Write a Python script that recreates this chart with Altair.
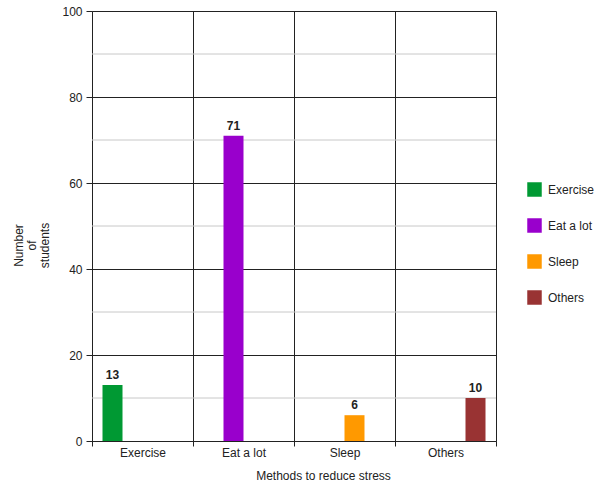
import altair as alt
import pandas as pd

# Survey results: how students reduce stress
methods = ["Exercise", "Eat a lot", "Sleep", "Others"]
students = [13, 71, 6, 10]
colors = ["#009933", "#9900cc", "#ff9900", "#993333"]

# y-axis ticks (labelled, dark grid) and the lighter in-between grid lines
major_ticks = [0, 20, 40, 60, 80, 100]
minor_ticks = [10, 30, 50, 70, 90]

bars_df = pd.DataFrame({"method": methods, "series": methods, "count": students})
minor_df = pd.DataFrame({"level": minor_ticks})

FONT = "Liberation Sans"

y_scale = alt.Scale(domain=[0, 100], nice=False)

minor_grid = alt.Chart(minor_df).mark_rule(color="#c8c8c8", strokeWidth=1).encode(
    y=alt.Y("level:Q", scale=y_scale)
)

x_enc = alt.X(
    "method:N",
    sort=methods,
    scale=alt.Scale(paddingInner=0, paddingOuter=0),
    axis=alt.Axis(
        title="Methods to reduce stress",
        tickBand="extent",
        grid=True,
        gridColor="#222222",
        labelAngle=0,
        labelFont=FONT,
        labelFontSize=12,
        labelColor="#222222",
        labelPadding=1,
        tickColor="#222222",
        tickSize=5,
        domainColor="#222222",
        titleFont=FONT,
        titleFontSize=12,
        titleFontWeight="normal",
        titleColor="#222222",
        titleX=231,
        titleY=34,
        titleBaseline="middle",
    ),
)

xoff_enc = alt.XOffset(
    "series:N",
    sort=methods,
    scale=alt.Scale(domain=methods, paddingInner=0, paddingOuter=0.525),
)

y_enc = alt.Y(
    "count:Q",
    scale=y_scale,
    axis=alt.Axis(
        title=["Number", "of", "students"],
        values=major_ticks,
        grid=True,
        gridColor="#222222",
        labelFont=FONT,
        labelFontSize=12,
        labelColor="#222222",
        labelPadding=4,
        tickColor="#222222",
        tickSize=6,
        domainColor="#222222",
        titleFont=FONT,
        titleFontSize=12,
        titleFontWeight="normal",
        titleColor="#222222",
        titleAngle=-90,
        titleAlign="center",
        titleBaseline="middle",
        titleX=-74,
        titleY=234,
        titleLineHeight=13,
    ),
)

bars = alt.Chart(bars_df).mark_bar().encode(
    x=x_enc,
    xOffset=xoff_enc,
    y=y_enc,
    color=alt.Color(
        "series:N",
        sort=methods,
        scale=alt.Scale(domain=methods, range=colors),
        legend=alt.Legend(
            title=None,
            orient="none",
            legendX=435,
            legendY=171,
            padding=0,
            symbolType="square",
            symbolSize=210,
            symbolStrokeWidth=0,
            symbolOpacity=1,
            labelFont=FONT,
            labelFontSize=12,
            labelColor="#222222",
            labelOffset=6,
            rowPadding=21,
        ),
    ),
)

labels = alt.Chart(bars_df).mark_text(
    font=FONT, fontSize=12, fontWeight="bold", color="#222222",
    baseline="alphabetic", dy=-6
).encode(
    x=alt.X("method:N", sort=methods),
    xOffset=alt.XOffset("series:N", sort=methods),
    y=alt.Y("count:Q"),
    text=alt.Text("count:Q"),
)

chart = (
    alt.layer(minor_grid, bars, labels)
    .properties(
        width=404,
        height=430,
        autosize=alt.AutoSizeParams(type="none"),
        padding={"left": 92, "top": 11, "right": 101, "bottom": 45},
        background="white",
    )
    .configure_view(strokeWidth=0)
)

chart.save("out.html", embed_options={"renderer": "svg", "actions": False})
